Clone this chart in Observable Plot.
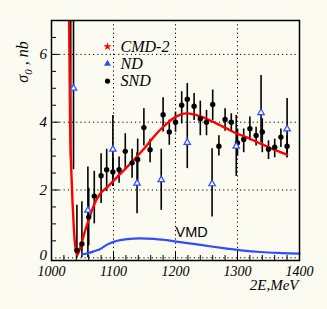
<!DOCTYPE html>
<html><head><meta charset="utf-8">
<script src="https://cdn.jsdelivr.net/npm/d3@7"></script>
<script src="https://cdn.jsdelivr.net/npm/@observablehq/plot@0.6"></script>
<style>
html,body{margin:0;padding:0;background:#fbfbf1;}
</style>
</head><body><div id="chart"></div>
<script>
// SND data (black dots)
const sndX  = [1031, 1041, 1049, 1060, 1069, 1080, 1089, 1099, 1109, 1119, 1130, 1139, 1149, 1159, 1180, 1190, 1200, 1210, 1219, 1230, 1240, 1250, 1260, 1270, 1280, 1290, 1300, 1310, 1320, 1330, 1340, 1350, 1360, 1370, 1380];
const sndY  = [8.0, 0.22, 0.41, 1.2, 1.82, 2.42, 2.6, 2.53, 2.6, 3.14, 2.8, 2.9, 3.84, 3.19, 4.22, 3.71, 4.0, 4.5, 4.68, 4.47, 4.1, 4.0, 4.52, 3.29, 4.08, 4.0, 3.39, 3.49, 3.81, 3.61, 3.71, 3.2, 3.26, 3.56, 3.29];
const sndLo = [3.0, 0.0, 0.0, 0.35, 1.0, 1.6, 1.95, 2.1, 2.2, 2.6, 2.35, 2.2, 3.3, 2.8, 3.71, 3.32, 3.7, 3.95, 4.2, 4.05, 3.6, 3.6, 4.05, 3.0, 3.73, 3.7, 3.0, 3.1, 3.45, 3.3, 3.1, 2.9, 2.95, 3.25, 2.95];
const sndHi = [9.0, 1.55, 1.65, 2.05, 2.55, 3.07, 3.2, 2.95, 2.97, 3.66, 3.2, 3.5, 4.4, 3.5, 4.72, 4.06, 4.3, 4.9, 5.14, 4.85, 4.62, 4.35, 4.95, 3.6, 4.4, 4.25, 3.8, 3.8, 4.15, 3.85, 4.1, 3.45, 3.5, 3.8, 3.6];

// ND data (open blue triangles)
const ndX  = [1035.5, 1058.7, 1099, 1138, 1177, 1219, 1259, 1298, 1338, 1380];
const ndY  = [5.0, 1.4, 3.2, 2.2, 2.3, 3.4, 2.18, 3.29, 4.28, 3.8];
const ndLo = [2.6, 0.0, 2.1, 1.3, 1.4, 2.63, 1.2, 2.4, 3.4, 2.95];
const ndHi = [8.0, 2.68, 4.2, 3.1, 3.2, 4.2, 3.22, 4.2, 5.38, 4.7];

// CMD-2 fit curve (red)
const cmdX = [1026.8, 1028.4, 1029.3, 1030.2, 1031.8, 1033.9, 1036.1, 1038.2, 1040.0, 1041.5, 1043.5, 1046, 1049, 1054.4, 1059.7, 1065.2, 1070.5, 1078.5, 1089, 1100, 1110, 1121, 1132, 1143, 1154, 1164, 1175, 1186, 1197, 1208, 1218, 1229, 1240, 1251, 1262, 1272, 1283, 1293.5, 1304, 1315, 1326, 1337, 1348, 1358, 1369, 1380];
const cmdY = [8.5, 7.0, 5.3, 3.61, 2.63, 1.64, 0.86, 0.36, 0.14, 0.08, 0.15, 0.28, 0.46, 0.81, 1.1, 1.4, 1.64, 1.89, 2.07, 2.27, 2.46, 2.66, 2.87, 3.09, 3.32, 3.55, 3.77, 3.96, 4.12, 4.22, 4.26, 4.23, 4.17, 4.09, 4.0, 3.91, 3.81, 3.71, 3.63, 3.55, 3.46, 3.37, 3.28, 3.2, 3.12, 3.04];

// VMD curve (blue)
const vmdX = [1049, 1060, 1070, 1078, 1089, 1100, 1111, 1122, 1143, 1165, 1186, 1208, 1229, 1255, 1283, 1310, 1337, 1370, 1400];
const vmdY = [0.1, 0.14, 0.2, 0.25, 0.38, 0.47, 0.52, 0.55, 0.57, 0.56, 0.52, 0.46, 0.41, 0.34, 0.27, 0.21, 0.17, 0.14, 0.12];

// ticks
const xMajor = [1000, 1100, 1200, 1300, 1400];
const xGrid = [1100, 1200, 1300];
const xMinor = [1020, 1040, 1060, 1080, 1120, 1140, 1160, 1180, 1220, 1240, 1260, 1280, 1320, 1340, 1360, 1380];
const yMajor = [0, 2, 4, 6];
const yMinor = [0.5, 1, 1.5, 2.5, 3, 3.5, 4.5, 5, 5.5, 6.5];

const legendLabels = ["CMD-2", "ND", "SND"];
const vmdText = "VMD";
const xLabel = "2E,MeV";

const snd = sndX.map((x, i) => ({x, y: sndY[i], lo: sndLo[i], hi: sndHi[i]}));
const nd = ndX.map((x, i) => ({x, y: ndY[i], lo: ndLo[i], hi: ndHi[i]}));
const cmd = cmdX.map((x, i) => ({x, y: cmdY[i]}));
const vmd = vmdX.map((x, i) => ({x, y: vmdY[i]}));

const BG = "#fbfbf1";
const RED = "#ff0000";
const BLUE = "#2f4cff";
const serif = "'Liberation Serif', 'Times New Roman', serif";
const W = 327, H = 309, ML = 51, MR = 28, MT = 20, MB = 49;
const PW = W - ML - MR, PH = H - MT - MB;
const dotted = "1.2,3";

const legendMarks = [];
const legendSymbols = [
  {symbol: "star", fill: RED, r: 2.6, stroke: "none"},
  {symbol: "triangle", fill: BLUE, r: 2.6, stroke: "none"},
  {symbol: "circle", fill: "black", r: 2.6, stroke: "none"}
];
legendLabels.forEach((label, i) => {
  const dy = 26 + i * 17.3;
  legendMarks.push(Plot.dot([label], {frameAnchor: "top-left", dx: 56, dy, ...legendSymbols[i]}));
  legendMarks.push(Plot.text([label], {frameAnchor: "top-left", dx: 69, dy, text: d => d, textAnchor: "start", lineAnchor: "middle", fontSize: 16, fontStyle: "italic", fontFamily: serif, fill: "black"}));
});

const yTickStyle = {tickSize: 0, tickPadding: 4.5, tickFormat: d => String(d), fontSize: 15, fontStyle: "italic", fontFamily: serif, label: null};

const chart = Plot.plot({
  width: W, height: H,
  marginLeft: ML, marginRight: MR, marginTop: MT, marginBottom: MB,
  style: {background: BG, fontFamily: serif},
  x: {domain: [1000, 1400]},
  y: {domain: [-0.08, 7]},
  marks: [
    // dotted grid
    Plot.ruleX(xGrid, {stroke: "black", strokeDasharray: dotted, strokeWidth: 1}),
    Plot.ruleY(yMajor, {stroke: "black", strokeDasharray: dotted, strokeWidth: 1}),
    // inward ticks
    Plot.ruleX(xMinor, {insetTop: PH - 5, stroke: "black", strokeWidth: 1}),
    Plot.ruleX(xGrid, {insetTop: PH - 8, stroke: "black", strokeWidth: 1}),
    Plot.ruleY(yMinor, {insetRight: PW - 5, stroke: "black", strokeWidth: 1}),
    Plot.ruleY(yMajor.filter(d => d > 0), {insetRight: PW - 8, stroke: "black", strokeWidth: 1}),
    // error bars
    Plot.ruleX(snd, {x: "x", y1: "lo", y2: "hi", stroke: "black", strokeWidth: 1.6, clip: true}),
    Plot.ruleX(nd, {x: "x", y1: "lo", y2: "hi", stroke: "black", strokeWidth: 1.6, clip: true}),
    // curves
    Plot.line(vmd, {x: "x", y: "y", stroke: BLUE, strokeWidth: 2.2, curve: "monotone-x"}),
    Plot.line(cmd, {x: "x", y: "y", stroke: RED, strokeWidth: 2.4, curve: "monotone-x", clip: true}),
    // points
    Plot.dot(snd, {x: "x", y: "y", r: 2.7, fill: "black", stroke: "none", clip: true}),
    Plot.dot(nd, {x: "x", y: "y", symbol: "triangle", r: 2.4, fill: BG, stroke: BLUE, strokeWidth: 1.2, clip: true}),
    // axes
    Plot.axisX(xMajor, {tickSize: 0, tickPadding: 6, tickFormat: d => String(d), fontSize: 14, fontStyle: "italic", fontFamily: serif, label: null}),
    Plot.axisY(yMajor.filter(d => d > 0), yTickStyle),
    Plot.axisY(yMajor.filter(d => d === 0), {...yTickStyle, dy: -2.5}),
    Plot.text([xLabel], {frameAnchor: "bottom-right", dx: -1, dy: 25, text: d => d, textAnchor: "end", lineAnchor: "middle", fontSize: 15, fontStyle: "italic", fontFamily: serif, fill: "black"}),
    Plot.text([vmdText], {frameAnchor: "bottom-left", dx: 124, dy: -28.5, text: d => d, textAnchor: "start", lineAnchor: "middle", fontSize: 14.5, fontFamily: "'Liberation Sans', Arial, sans-serif", fill: "black"}),
    ...legendMarks,
    Plot.frame({stroke: "black", strokeWidth: 1.5})
  ]
});

document.getElementById("chart").appendChild(chart);

// y-axis label with subscript
const svg = d3.select(chart);
const yl = svg.append("text")
  .attr("transform", "translate(27.5,62) rotate(-90)")
  .attr("font-family", serif)
  .attr("font-size", 16)
  .attr("font-style", "italic")
  .attr("fill", "black");
yl.append("tspan").text("σ");
yl.append("tspan").attr("font-size", 11).attr("dy", 4).text("0");
yl.append("tspan").attr("dy", -4).text(" , nb");
</script>
</body></html>
